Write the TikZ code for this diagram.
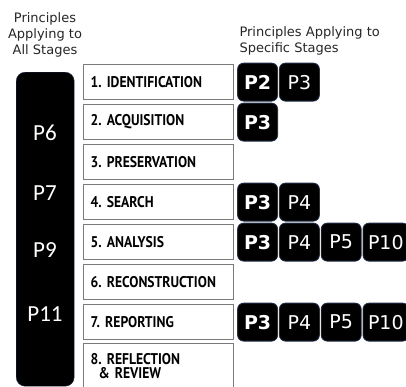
\documentclass[tikz,border=0pt]{standalone}
\usepackage{fontspec}
\usetikzlibrary{positioning}
\newfontfamily\titlefont{DejaVu Sans}
\newfontfamily\barfont{Carlito}
\newfontfamily\stagefont[FakeStretch=0.88]{PT Sans}
\definecolor{boxgray}{HTML}{7A7A7A}
\definecolor{pillrim}{HTML}{22304A}
\frenchspacing
\tikzset{
  stage/.style={draw=boxgray, line width=1.2pt, fill=white, minimum width=150pt,
    minimum height=35pt, text width=136pt, inner xsep=7pt, align=left,
    anchor=north west, font=\stagefont\bfseries\fontsize{15.5}{14}\selectfont},
  pill/.style={draw=pillrim, line width=0.8pt, fill=black, rounded corners=6pt,
    minimum height=38pt, minimum width=40pt, inner ysep=0pt, inner xsep=5pt,
    text=white, font=\titlefont\fontsize{19}{19}\selectfont},
  keypill/.style={pill, font=\titlefont\bfseries\fontsize{19}{19}\selectfont},
  barlabel/.style={text=white, font=\barfont\fontsize{23}{23}\selectfont},
  heading/.style={text=black!85, font=\titlefont\fontsize{13}{16}\selectfont}
}

\begin{document}
\begin{tikzpicture}[x=1pt, y=-1pt]
    \useasboundingbox (0,0) rectangle (406,386);
    % principles for every stage
    \node[heading, align=center] (allhead) at (45,35) {Principles\\Applying to\\All Stages};
    \node[fill=black, draw=pillrim, rounded corners=9pt, minimum width=58pt,
      minimum height=314pt, anchor=north west] (allbar) at (16,72) {};
    \foreach \lbl/\y in {P6/133, P7/193, P9/250, P11/314} {
      \node[barlabel] (\lbl) at (45,\y) {\lbl};
    }
    % stages
    \foreach [count=\i] \name in {IDENTIFICATION, ACQUISITION, PRESERVATION,
        SEARCH, ANALYSIS, RECONSTRUCTION, REPORTING} {
      \node[stage] (s\i) at (83,{24+40*\i}) {\i. \name};
    }
    \node[stage, minimum height=44pt] (s8) at (83,343) {8. REFLECTION\\\hspace*{8pt}\& REVIEW};
    % principles for single stages
    \node[heading, align=left, anchor=west] (spechead) at (236,41) {Principles Applying to\\Specific Stages};
    \foreach \r/\list in {1/{P2,P3}, 2/{P3}, 4/{P3,P4}, 5/{P3,P4,P5,P10}, 7/{P3,P4,P5,P10}} {
      \foreach [count=\j] \p in \list {
        \ifnum\j=1
          \node[keypill, right=3pt of s\r] (p\r-\j) {\p};
        \else
          \pgfmathtruncatemacro\k{\j-1}
          \node[pill, right=1pt of p\r-\k] (p\r-\j) {\p};
        \fi
      }
    }
  \end{tikzpicture}
\end{document}
